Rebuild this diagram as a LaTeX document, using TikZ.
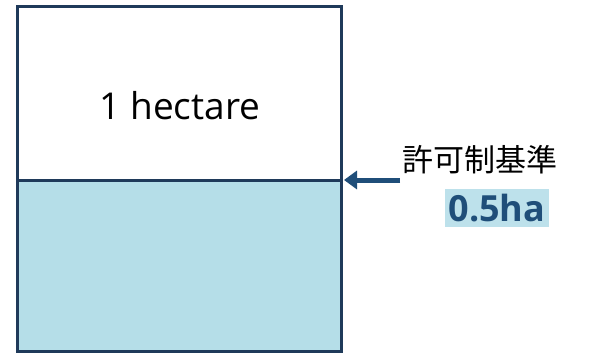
\documentclass[tikz,border=0pt]{standalone}
\usepackage{fontspec}
\setmainfont{Open Sans}
\newfontfamily\cjk{Noto Sans CJK JP}
\usetikzlibrary{arrows.meta}
\definecolor{boxline}{HTML}{1F3A5A}
\definecolor{lightfill}{HTML}{B5DEE8}
\definecolor{arrowblue}{HTML}{1F4E79}
\definecolor{hlbg}{HTML}{BDE1EB}
\tikzset{
  plot/.style={draw=boxline, line width=3pt},
  lbl/.style={inner sep=0pt, text=black},
  pointer/.style={draw=arrowblue, line width=5pt, -{Triangle[length=13pt,width=18pt]}},
}
\begin{document}
\begin{tikzpicture}[x=1pt,y=-1pt]
\useasboundingbox (0,0) rectangle (590,353);
\fill[white] (0,0) rectangle (590,353);
\fill[lightfill] (17,180) rectangle (341,351);
\draw[plot] (17,7) rectangle (341,351);
\draw[plot] (17,180) -- (341,180);
\coordinate (mid) at (344,180);
\node[lbl, font=\fontsize{37}{44}\selectfont] (hect) at (180,106) {1 hectare};
\node[lbl, font=\cjk\fontsize{31}{36}\selectfont] (jp) at (480,160) {許可制基準};
\node[fill=hlbg, inner xsep=4pt, inner ysep=5pt, text=arrowblue, font=\bfseries\fontsize{36}{42}\selectfont] (ha) at (497,208) {0.5ha};
\coordinate (astart) at (400,180);
\draw[pointer] (astart) -- (mid);
\end{tikzpicture}
\end{document}
